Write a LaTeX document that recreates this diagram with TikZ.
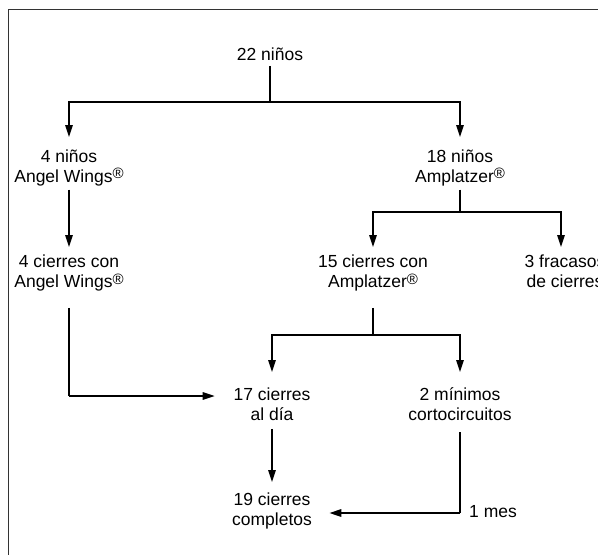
\documentclass[tikz,border=0pt]{standalone}
\usepackage{fontspec}
\setmainfont{Liberation Sans}
\usetikzlibrary{arrows.meta}
\newcommand{\regmark}{{\fontsize{15}{15}\selectfont\raisebox{3.5pt}{®}}}
\begin{document}
\begin{tikzpicture}[x=1pt,y=-1pt,
  lbl/.style={align=center,inner sep=0pt,anchor=north,font=\fontsize{17.5}{20}\selectfont},
  conn/.style={line width=1.6pt},
  arr/.style={line width=1.6pt,-{Triangle[length=12pt,width=7.5pt]}}]
\useasboundingbox (0,0) rectangle (598,555);
\clip (0,0) rectangle (598,555);
\draw[line width=0.9pt,black!80] (8,9) rectangle (640,600);
% nodes
\node[lbl] (a) at (270,47.6) {22 niños};
\node[lbl] (b) at (69,149.6) {4 niños\\Angel Wings\regmark};
\node[lbl] (c) at (460,149.6) {18 niños\\Amplatzer\regmark};
\node[lbl] (d) at (69,254.8) {4 cierres con\\Angel Wings\regmark};
\node[lbl] (e) at (373,254.8) {15 cierres con\\Amplatzer\regmark};
\node[lbl] (f) at (565,254.8) {3 fracasos\\de cierres};
\node[lbl] (g) at (272,387.6) {17 cierres\\al día};
\node[lbl] (h) at (460,387.6) {2 mínimos\\cortocircuitos};
\node[lbl] (i) at (272,492.6) {19 cierres\\completos};
\node[lbl,anchor=base west] (m) at (469,517) {1 mes};
% junctions
\coordinate (j1) at (270,102);
\coordinate (j2) at (460,212);
\coordinate (j3) at (373,335);
\coordinate (k1) at (69,396);
\coordinate (k2) at (460,513);
\coordinate (fin) at (561,254.8);
% connectors
\draw[conn,shorten <=5pt] (a.south) -- (j1);
\draw[arr,shorten >=12.6pt] (j1) -| (b.north);
\draw[arr,shorten >=12.6pt] (j1) -| (c.north);
\draw[arr,shorten <=3.4pt,shorten >=7.8pt] (b.south) -- (d.north);
\draw[conn,shorten <=3.4pt] (c.south) -- (j2);
\draw[arr,shorten >=7.8pt] (j2) -| (e.north);
\draw[arr,shorten >=7.8pt] (j2) -| (fin);
\draw[conn,shorten <=16.4pt] (e.south) -- (j3);
\draw[arr,shorten >=15.6pt] (j3) -| (g.north);
\draw[arr,shorten >=15.6pt] (j3) -| (h.north);
\draw[conn,shorten <=16.4pt] (d.south) -- (k1);
\draw[arr,shorten >=18.7pt] (k1) -- (k1 -| g.west);
\draw[arr,shorten <=8pt,shorten >=10.6pt] (g.south) -- (i.north);
\draw[conn,shorten <=11pt] (h.south) -- (k2);
\draw[arr,shorten >=17.3pt] (k2) -- (k2 -| i.east);
\end{tikzpicture}
\end{document}
